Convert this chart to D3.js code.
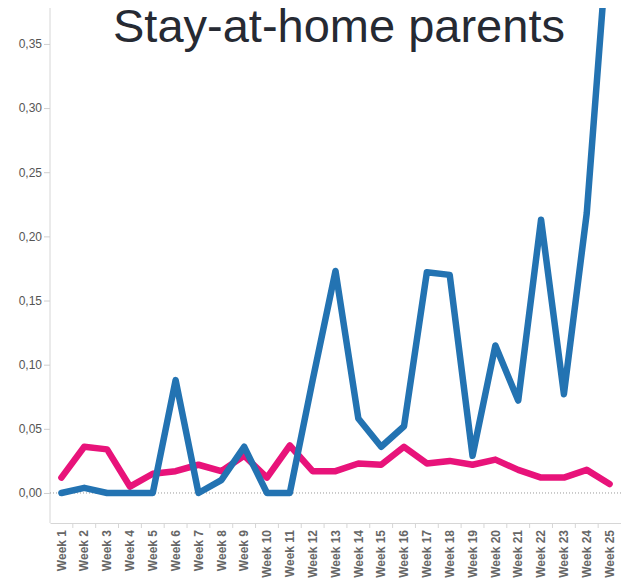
<!DOCTYPE html>
<html>
<head>
<meta charset="utf-8">
<script src="https://cdn.jsdelivr.net/npm/d3@7"></script>
<style>
  body { margin: 0; background: #fff; }
  svg { display: block; font-family: "Liberation Sans", Arial, sans-serif; }
</style>
</head>
<body>
<div id="graph"></div>
<script>
// weeks and the two series (share of stay-at-home parents)
const weeks = d3.range(1, 26).map(i => "Week " + i);
const blueValues = [0.000, 0.004, 0.000, 0.000, 0.000, 0.088, 0.000, 0.010, 0.036, 0.000,
                    0.000, 0.088, 0.173, 0.058, 0.036, 0.052, 0.172, 0.170, 0.029, 0.115,
                    0.072, 0.213, 0.077, 0.218, 0.450];
const pinkValues = [0.012, 0.036, 0.034, 0.005, 0.015, 0.017, 0.022, 0.017, 0.029, 0.012,
                    0.037, 0.017, 0.017, 0.023, 0.022, 0.036, 0.023, 0.025, 0.022, 0.026,
                    0.018, 0.012, 0.012, 0.018, 0.007];
const yTicks = [0, 0.05, 0.10, 0.15, 0.20, 0.25, 0.30, 0.35];
const title = "Stay-at-home parents";

const width = 621;
const height = 579;
const marginTop = 8;
const marginRight = 0;
const marginBottom = 56;
const marginLeft = 50;

const svg = d3.create("svg")
    .attr("width", width)
    .attr("height", height);

const x = d3.scaleBand()
    .domain(weeks)
    .range([marginLeft, width - marginRight])
    .paddingInner(0).paddingOuter(0);

const y = d3.scaleLinear()
    .domain([-0.0234, 0.378])
    .range([height - marginBottom, marginTop]);

// y axis
const yAxis = svg.append("g")
    .attr("transform", `translate(${marginLeft},0)`)
    .call(d3.axisLeft(y).tickValues(yTicks).tickSize(6).tickSizeOuter(0)
        .tickFormat(d => d3.format(".2f")(d).replace(".", ",")));
yAxis.select(".domain").attr("stroke", "#d6d6d6").attr("d", `M0,${marginTop}V${height - marginBottom}`);
yAxis.selectAll(".tick line").attr("stroke", "#cfcfcf");
yAxis.selectAll(".tick text").attr("fill", "#555").attr("font-size", 12).attr("x", -8);

// x axis with ticks on band edges
const xAxis = svg.append("g")
    .attr("transform", `translate(0,${height - marginBottom})`)
    .call(d3.axisBottom(x).tickSize(0).tickSizeOuter(0));
xAxis.select(".domain").attr("stroke", "#d6d6d6");
xAxis.selectAll(".tick text")
    .attr("fill", "#666")
    .attr("font-size", 12)
    .attr("font-weight", "bold")
    .attr("transform", "rotate(-90)")
    .attr("text-anchor", "end")
    .attr("x", -7)
    .attr("y", 0)
    .attr("dy", "0.35em");
xAxis.append("g").selectAll("line")
    .data(weeks.slice(1))
    .join("line")
    .attr("x1", d => x(d)).attr("x2", d => x(d))
    .attr("y1", 0).attr("y2", 5)
    .attr("stroke", "#d6d6d6");

// zero line
svg.append("line")
    .attr("x1", marginLeft).attr("x2", width - marginRight)
    .attr("y1", y(0)).attr("y2", y(0))
    .attr("stroke", "#999")
    .attr("stroke-width", 1)
    .attr("stroke-dasharray", "1,2");

svg.append("clipPath").attr("id", "plot")
  .append("rect")
    .attr("x", marginLeft).attr("y", marginTop)
    .attr("width", width - marginLeft - marginRight)
    .attr("height", height - marginBottom - marginTop);

const line = d3.line()
    .x((d, i) => x(weeks[i]) + x.bandwidth() / 2)
    .y(d => y(d));

const lines = svg.append("g").attr("clip-path", "url(#plot)");
[[pinkValues, "#e8137a"], [blueValues, "#2373b2"]].forEach(([vals, c]) => {
  lines.append("path")
      .datum(vals)
      .attr("fill", "none")
      .attr("stroke", c)
      .attr("stroke-width", 6.5)
      .attr("stroke-linejoin", "round")
      .attr("stroke-linecap", "round")
      .attr("d", line);
});

svg.append("text")
    .attr("x", 339)
    .attr("y", 42)
    .attr("text-anchor", "middle")
    .attr("font-size", 47)
    .attr("fill", "#262a33")
    .text(title);

document.getElementById("graph").appendChild(svg.node());
</script>
</body>
</html>
